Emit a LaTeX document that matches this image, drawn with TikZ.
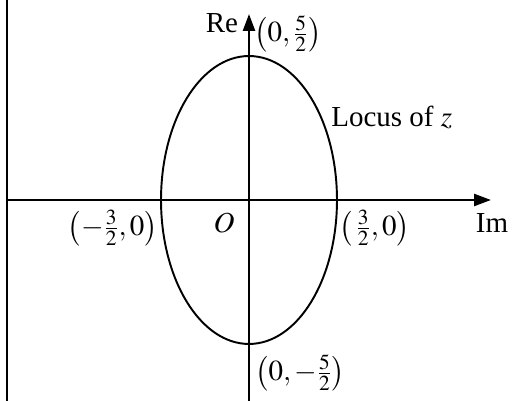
\documentclass[tikz,border=0pt]{standalone}
\usepackage{mathptmx}
\usepackage{fontspec}
\setmainfont{Liberation Serif}
\usetikzlibrary{arrows.meta}
\tikzset{
  axis/.style={line width=1.4pt, -{Triangle[length=0.34cm, width=0.24cm]}},
  frameline/.style={line width=1pt},
  locus/.style={line width=1.1pt},
  lbl/.style={font=\fontsize{16.5}{19}\selectfont, inner sep=0pt}
}
\begin{document}
\begin{tikzpicture}[x=0.02cm,y=-0.02cm]
\useasboundingbox (0,0) rectangle (514,401);
\fill[white] (0,0) rectangle (514,401);

\coordinate (O) at (249,200);
\coordinate (west) at (8,200);
\coordinate (east) at (491,200);
\coordinate (south) at (249,401);
\coordinate (north) at (249,14);
\coordinate (edgetop) at (7,0);
\coordinate (edgebot) at (7,401);

\draw[frameline] (edgetop) -- (edgebot);
\draw[axis] (west) -- (east);
\draw[axis] (south) -- (north);
\draw[locus] (O) ellipse [x radius=1.76cm, y radius=2.88cm];

\node[lbl, anchor=base] (re) at (222,33) {Re};
\node[lbl, anchor=west] (top) at (254,34) {$\left(0,\frac{5}{2}\right)$};
\node[lbl, anchor=base west] (locus) at (331,127) {Locus of $z$};
\node[lbl, anchor=east] (left) at (158,228) {$\left(-\frac{3}{2},0\right)$};
\node[lbl, anchor=base] (origin) at (224,233) {$O$};
\node[lbl, anchor=west] (right) at (339,228) {$\left(\,\frac{3}{2},0\right)$};
\node[lbl, anchor=base] (im) at (492,233) {Im};
\node[lbl, anchor=west] (bottom) at (255,373) {$\left(0,-\frac{5}{2}\right)$};
\end{tikzpicture}
\end{document}
